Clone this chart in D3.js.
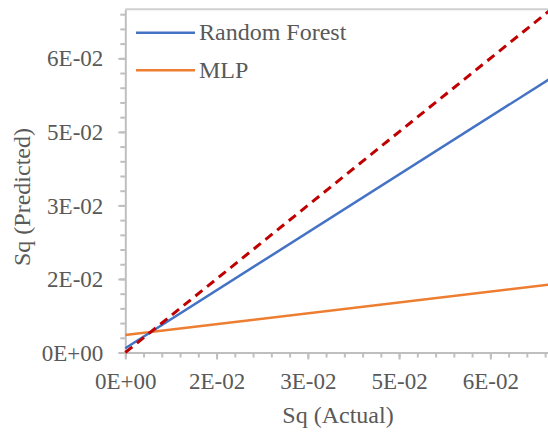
<!DOCTYPE html>
<html>
<head>
<meta charset="utf-8">
<script src="https://cdn.jsdelivr.net/npm/d3@7"></script>
<style>
body { margin: 0; background: #fff; }
text { font-family: "Liberation Serif", "Times New Roman", serif; fill: #595959; }
</style>
</head>
<body>
<script>
// axis extent and tick labels (Excel style)
var domainMax = 0.07;
var majorTicks = [0, 0.015, 0.03, 0.045, 0.06];
var tickLabels = ["0E+00", "2E-02", "3E-02", "5E-02", "6E-02"];
var minorTicks = d3.range(0, 24).map(function (i) { return i * 0.003; });

// fitted trend lines, end points
var actual = [0, 0.07];
var randomForest = [0.00086, 0.0560];
var mlp = [0.00357, 0.0139];
var ideal = [0, 0.07];

var series = [
    { name: "MLP", values: mlp, color: "#ED7D31" },
    { name: "Random Forest", values: randomForest, color: "#4472C4" }
];

var width = 548, height = 432;
var svg = d3.select("body").append("svg").attr("width", width).attr("height", height);

var x = d3.scaleLinear().domain([0, domainMax]).range([125.3, 551.2]);
var y = d3.scaleLinear().domain([0, domainMax]).range([352.5, 9.3]);

// plot border (top)
svg.append("line")
    .attr("x1", x(0)).attr("x2", x(domainMax))
    .attr("y1", y(domainMax)).attr("y2", y(domainMax))
    .attr("stroke", "#D0D0D0").attr("stroke-width", 2);

function styleAxis(g) {
    g.selectAll("path, line").attr("stroke", "#BFBFBF").attr("stroke-width", 2);
    g.selectAll("text").attr("fill", "#595959").style("font-size", "23px")
        .style("font-family", "'Liberation Serif', 'Times New Roman', serif");
}

// minor ticks
svg.append("g").attr("transform", "translate(0," + y(0) + ")")
    .call(d3.axisBottom(x).tickValues(minorTicks).tickSize(5).tickSizeOuter(0).tickFormat(""))
    .call(styleAxis);
svg.append("g").attr("transform", "translate(" + x(0) + ",0)")
    .call(d3.axisLeft(y).tickValues(minorTicks).tickSize(5).tickSizeOuter(0).tickFormat(""))
    .call(styleAxis);

// major ticks with labels
var xAxis = svg.append("g").attr("transform", "translate(0," + y(0) + ")")
    .call(d3.axisBottom(x).tickValues(majorTicks).tickSize(7).tickSizeOuter(0).tickPadding(14)
        .tickFormat(function (d, i) { return tickLabels[i]; }))
    .call(styleAxis);
xAxis.select(".domain").remove();
xAxis.selectAll("text").attr("dy", "0.71em").attr("y", 20);

var yAxis = svg.append("g").attr("transform", "translate(" + x(0) + ",0)")
    .call(d3.axisLeft(y).tickValues(majorTicks).tickSize(7).tickSizeOuter(0).tickPadding(14)
        .tickFormat(function (d, i) { return tickLabels[i]; }))
    .call(styleAxis);
yAxis.select(".domain").remove();
yAxis.selectAll("text").attr("x", -22).attr("dy", "0.33em");

// lines
var line = d3.line()
    .x(function (d, i) { return x(actual[i]); })
    .y(function (d) { return y(d); });

series.forEach(function (s) {
    svg.append("path").attr("d", line(s.values))
        .attr("fill", "none").attr("stroke", s.color).attr("stroke-width", 2.5);
});
svg.append("path").attr("d", line(ideal))
    .attr("fill", "none").attr("stroke", "#C00000").attr("stroke-width", 3)
    .attr("stroke-dasharray", "9,6");

// legend
var legend = svg.append("g");
series.slice().reverse().forEach(function (s, i) {
    var ly = 32.7 + i * 37.5;
    legend.append("line").attr("x1", 136).attr("x2", 195).attr("y1", ly).attr("y2", ly)
        .attr("stroke", s.color).attr("stroke-width", 2.5);
    legend.append("text").attr("x", 199).attr("y", ly + 7.5)
        .style("font-size", "24px").text(s.name);
});

// axis titles
svg.append("text").attr("x", 338).attr("y", 423).attr("text-anchor", "middle")
    .style("font-size", "24px").text("Sq (Actual)");
svg.append("text").attr("transform", "translate(30,197) rotate(-90)").attr("text-anchor", "middle")
    .style("font-size", "24px").text("Sq (Predicted)");
</script>
</body>
</html>
